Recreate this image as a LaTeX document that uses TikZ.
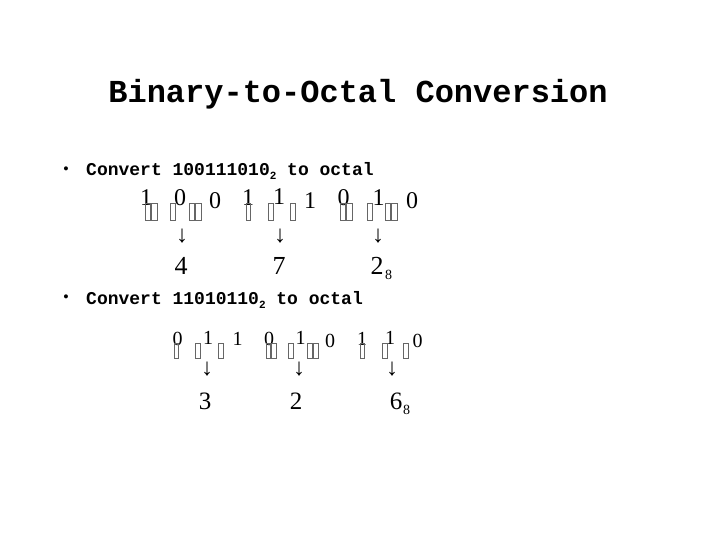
\documentclass[tikz,border=0pt]{standalone}
\usepackage{fontspec}
\setmainfont{Liberation Serif}
\newfontfamily\monob{Liberation Mono}[BoldFont={Liberation Mono Bold}]
\begin{document}
\begin{tikzpicture}[x=1pt,y=-1pt,
  title/.style={inner sep=0pt,anchor=base,font=\monob\bfseries\fontsize{32}{36}\selectfont},
  bul/.style={inner sep=0pt,anchor=base west,font=\monob\bfseries\fontsize{18}{22}\selectfont},
  dot/.style={inner sep=0pt,anchor=center,font=\monob\bfseries\fontsize{14}{16}\selectfont},
  bigd/.style={inner sep=0pt,anchor=base,font=\fontsize{24}{28}\selectfont},
  smalld/.style={inner sep=0pt,anchor=base,font=\fontsize{20}{24}\selectfont},
  resd/.style={inner sep=0pt,anchor=base,font=\fontsize{26}{30}\selectfont},
  res2d/.style={inner sep=0pt,anchor=base,font=\fontsize{25}{30}\selectfont},
  subd/.style={inner sep=0pt,anchor=base west,font=\fontsize{14}{16}\selectfont},
  arr/.style={inner sep=0pt,anchor=center,font=\fontsize{24}{26}\selectfont},
  tofu/.style={draw=black!60,line width=0.7pt}]
\useasboundingbox (0,0) rectangle (720,540);
\fill[white] (0,0) rectangle (720,540);
% title
\node[title] (t) at (358,103) {Binary-to-Octal Conversion};
% bullet lines
\node[dot] (b1) at (66,170) {•};
\node[bul] (l1) at (86,176) {Convert 100111010\raisebox{-4pt}{\fontsize{11}{12}\selectfont 2} to octal};
\node[dot] (b2) at (66,298) {•};
\node[bul] (l2) at (86,304) {Convert 11010110\raisebox{-4pt}{\fontsize{11}{12}\selectfont 2} to octal};
% row 1 binary digits
\node[bigd] (r1a1) at (146,206) {1};
\node[bigd] (r1b1) at (180,206) {0};
\node[bigd] (r1c1) at (215,208) {0};
\node[bigd] (r1a2) at (248,206) {1};
\node[bigd] (r1b2) at (279,205) {1};
\node[bigd] (r1c2) at (310,208) {1};
\node[bigd] (r1a3) at (343.5,206) {0};
\node[bigd] (r1b3) at (378.5,206) {1};
\node[bigd] (r1c3) at (412,208) {0};
% row 1 missing-glyph boxes
\foreach \xa/\xb in {145/150,151/157,170/175,189/194,195/201,246/250,268/273,290/295,340/345,346/352,367/372,385/390,391/397}
  \draw[tofu] (\xa,203) rectangle (\xb,220);
% row 1 arrows and results
\node[arr] (d1a) at (182,236) {↓};
\node[arr] (d1b) at (280,236) {↓};
\node[arr] (d1c) at (378,236) {↓};
\node[resd] (o1a) at (181,274) {4};
\node[resd] (o1b) at (279,274) {7};
\node[resd] (o1c) at (377,274) {2};
\node[subd] (s1) at (385,279) {8};
% row 2 binary digits
\node[smalld] (r2a1) at (177.5,345) {0};
\node[smalld] (r2b1) at (208,344) {1};
\node[smalld] (r2c1) at (237.5,345) {1};
\node[smalld] (r2a2) at (269,345) {0};
\node[smalld] (r2b2) at (300.5,344) {1};
\node[smalld] (r2c2) at (330,347) {0};
\node[smalld] (r2a3) at (362,345) {1};
\node[smalld] (r2b3) at (390,344) {1};
\node[smalld] (r2c3) at (417.5,347) {0};
\foreach \xa/\xb in {174/178,195/200,218/223,266/270,271/276,288/293,307/312,313/318,360/364,382/387,403/408}
  \draw[tofu] (\xa,343) rectangle (\xb,358);
% row 2 arrows and results
\node[arr] (d2a) at (207,369) {↓};
\node[arr] (d2b) at (299,369) {↓};
\node[arr] (d2c) at (392,369) {↓};
\node[res2d] (o2a) at (205,409) {3};
\node[res2d] (o2b) at (296,409) {2};
\node[res2d] (o2c) at (396,409) {6};
\node[subd] (s2) at (403,414) {8};
\end{tikzpicture}
\end{document}
